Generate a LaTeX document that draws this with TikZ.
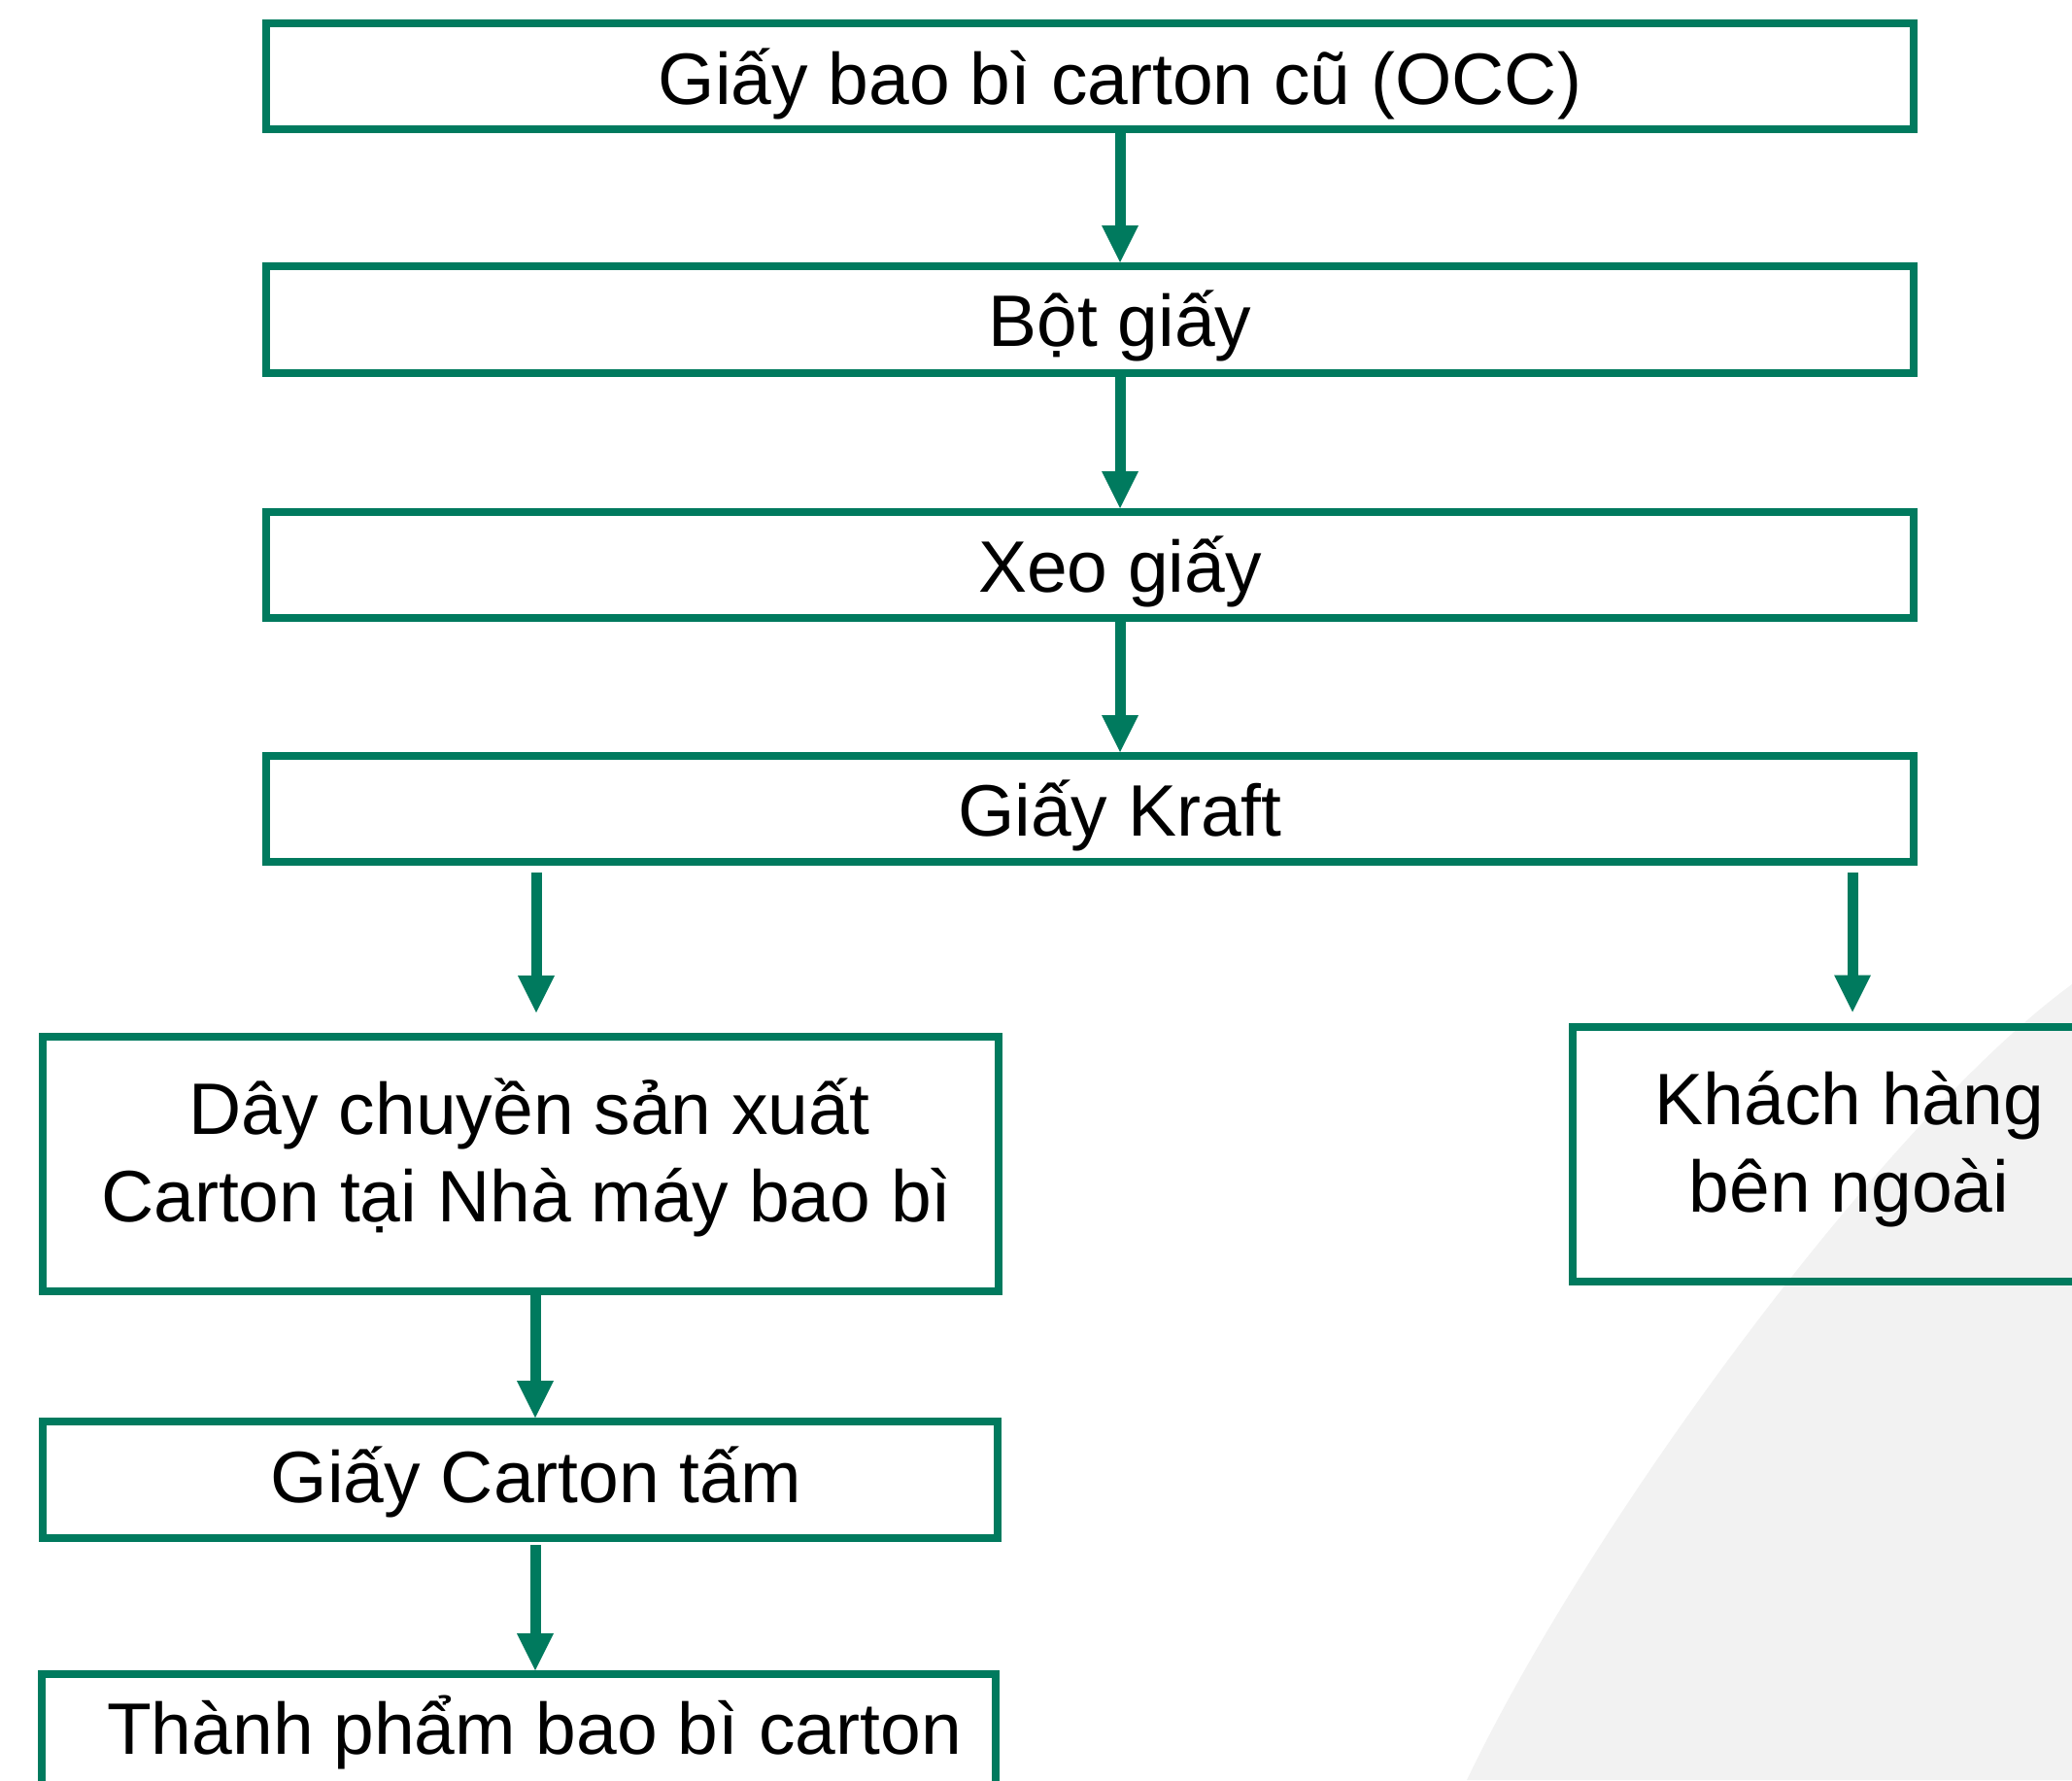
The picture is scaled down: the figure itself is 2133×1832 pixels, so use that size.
\documentclass[tikz,border=0pt]{standalone}
\usepackage{fontspec}
\setmainfont{Liberation Sans}
\usetikzlibrary{arrows.meta}
\definecolor{grn}{RGB}{0,122,94}
\definecolor{bggray}{RGB}{242,242,242}
\begin{document}
\begin{tikzpicture}[x=1pt,y=-1pt,
  box/.style={draw=grn, line width=8pt, inner sep=0pt, rectangle},
  lbl/.style={font=\fontsize{75}{90}\selectfont, inner sep=0pt, anchor=base},
  arr/.style={draw=grn, line width=11pt, -{Triangle[width=38pt,length=38pt,line width=0pt]}}]
\useasboundingbox (0,0) rectangle (2133,1832);
% background shape
\fill[bggray] (2133,1013) .. controls (1945,1150) and (1640,1560) .. (1510,1832) -- (2133,1832) -- cycle;
% boxes
\node[box, minimum width=1696pt, minimum height=109pt] (b1) at (1122,78.5) {};
\node[box, minimum width=1696pt, minimum height=110pt] (b2) at (1122,329) {};
\node[box, minimum width=1696pt, minimum height=109pt] (b3) at (1122,581.5) {};
\node[box, minimum width=1696pt, minimum height=109pt] (b4) at (1122,832.5) {};
\node[box, minimum width=984pt, minimum height=262pt] (b5) at (536,1198) {};
\node[box, minimum width=581pt, minimum height=262pt] (b6) at (1909.5,1188) {};
\node[box, minimum width=983pt, minimum height=120pt] (b7) at (535.5,1523) {};
\node[box, minimum width=982pt, minimum height=200pt] (b8) at (534,1823) {};
% labels
\node[lbl] (t1) at (1153,107) {Giấy bao bì carton cũ (OCC)};
\node[lbl] (t2) at (1153,356) {Bột giấy};
\node[lbl] (t3) at (1153,609) {Xeo giấy};
\node[lbl] (t4) at (1153,860) {Giấy Kraft};
\node[lbl] (t5a) at (545,1167) {Dây chuyền sản xuất};
\node[lbl] (t5b) at (542,1257) {Carton tại Nhà máy bao bì};
\node[lbl] (t6a) at (1904,1157) {Khách hàng};
\node[lbl] (t6b) at (1903.5,1247) {bên ngoài};
\node[lbl] (t7) at (552,1546) {Giấy Carton tấm};
\node[lbl] (t8) at (550,1805) {Thành phẩm bao bì carton};
% arrow columns
\coordinate (cM) at (1153,0);
\coordinate (cL) at (552,0);
\coordinate (cR) at (1907,0);
\coordinate (cL2) at (551,0);
% connectors
\draw[arr] (b1.south -| cM) -- (b2.north -| cM);
\draw[arr] (b2.south -| cM) -- (b3.north -| cM);
\draw[arr] (b3.south -| cM) -- (b4.north -| cM);
\draw[arr, shorten <=7pt, shorten >=21pt] (b4.south -| cL) -- (b5.north -| cL);
\draw[arr, shorten <=7pt, shorten >=11.5pt] (b4.south -| cR) -- (b6.north -| cR);
\draw[arr] (b5.south -| cL2) -- (b7.north -| cL2);
\draw[arr, shorten <=3pt] (b7.south -| cL2) -- (b8.north -| cL2);
\end{tikzpicture}
\end{document}
